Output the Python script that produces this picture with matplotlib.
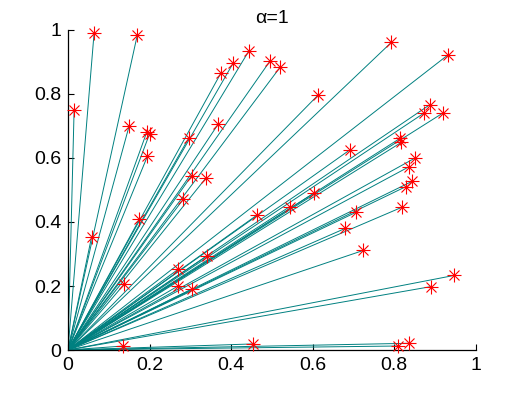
"""Rays from the origin to scattered points, alpha=1."""
import numpy as np
import matplotlib
matplotlib.use("Agg")
import matplotlib.pyplot as plt

# end points (red stars)
star_x = [0.015, 0.064, 0.170, 0.150, 0.193, 0.200, 0.195, 0.297, 0.368, 0.375,
          0.405, 0.444, 0.495, 0.520, 0.303, 0.3375, 0.793, 0.932, 0.613, 0.887,
          0.873, 0.919, 0.691, 0.814, 0.818, 0.850, 0.837, 0.844, 0.828, 0.603,
          0.544, 0.706, 0.819, 0.680, 0.724, 0.947, 0.890, 0.810, 0.837, 0.283,
          0.175, 0.058, 0.464, 0.341, 0.270, 0.138, 0.270, 0.303, 0.136, 0.454]
star_y = [0.750, 0.990, 0.984, 0.700, 0.680, 0.675, 0.606, 0.664, 0.705, 0.865,
          0.896, 0.935, 0.902, 0.883, 0.544, 0.536, 0.961, 0.922, 0.796, 0.766,
          0.740, 0.740, 0.625, 0.661, 0.649, 0.599, 0.573, 0.527, 0.510, 0.490,
          0.448, 0.430, 0.446, 0.380, 0.311, 0.233, 0.198, 0.0125, 0.021, 0.471,
          0.408, 0.354, 0.422, 0.294, 0.252, 0.206, 0.200, 0.190, 0.0125, 0.019]

# one ray with no star on it (lies along the y axis)
extra_x = [0.0]
extra_y = [0.163]

ticks = [0, 0.2, 0.4, 0.6, 0.8, 1]
tick_labels = ["0", "0.2", "0.4", "0.6", "0.8", "1"]

plt.rcParams["font.family"] = ["Liberation Sans", "DejaVu Sans"]

fig = plt.figure(figsize=(5.25, 3.93), dpi=100)
ax = fig.add_axes([0.1295, 0.1094, 0.7765, 0.8143])

teal = "#008080"
for x, y in zip(extra_x + star_x, extra_y + star_y):
    ax.plot([0, x], [0, y], "-", color=teal, lw=0.7, zorder=2)
# matlab style asterisk: a plus with a smaller x on top
ax.plot(star_x, star_y, linestyle="none", marker="+", color="red",
        markersize=10.5, markeredgewidth=0.8, zorder=3, clip_on=False)
ax.plot(star_x, star_y, linestyle="none", marker="x", color="red",
        markersize=7, markeredgewidth=0.8, zorder=3, clip_on=False)

ax.set_xlim(0, 1)
ax.set_ylim(0, 1)
ax.set_xticks(ticks)
ax.set_xticklabels(tick_labels)
ax.set_yticks(ticks)
ax.set_yticklabels(tick_labels)
ax.tick_params(direction="in", length=4, width=0.8, labelsize=14, pad=5)
ax.spines["top"].set_visible(False)
ax.spines["right"].set_visible(False)
for s in ("left", "bottom"):
    ax.spines[s].set_linewidth(0.9)
ax.set_title("\u03b1=1", fontsize=14, pad=5)

fig.savefig("out.png", dpi=100)
